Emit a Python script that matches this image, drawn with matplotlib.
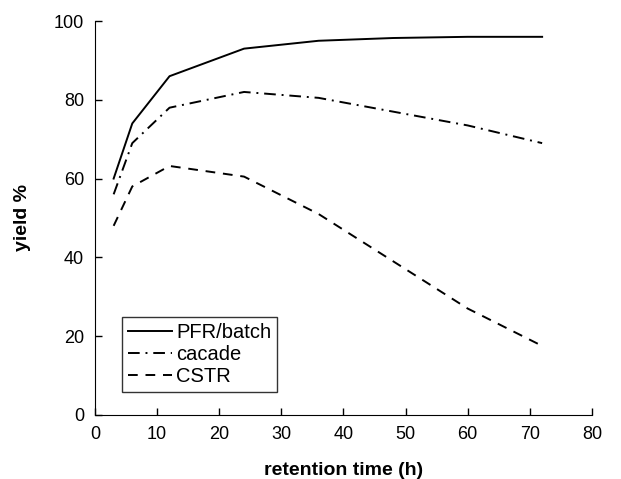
import matplotlib
matplotlib.use("Agg")
import matplotlib.pyplot as plt

plt.rcParams['font.family'] = ['Liberation Sans', 'DejaVu Sans']

# retention time (h)
t = [3, 6, 12, 24, 36, 48, 60, 72]
# yield % for each reactor type
pfr = [60, 74, 86, 93, 95, 95.7, 96, 96]
cascade = [56, 69, 78, 82, 80.5, 77, 73.5, 69]
cstr = [48, 58, 63.2, 60.5, 51, 39, 27, 17.5]

fig = plt.figure(figsize=(6.21, 4.79), dpi=100)
ax = fig.add_axes([0.153, 0.134, 0.8, 0.822])

ax.plot(t, pfr, color="black", lw=1.4, ls="-", label="PFR/batch")
ax.plot(t, cascade, color="black", lw=1.4, ls=(0, (6, 3, 1, 3)), label="cacade")
ax.plot(t, cstr, color="black", lw=1.4, ls=(0, (5, 4)), label="CSTR")

ax.set_xlim(0, 80)
ax.set_ylim(0, 100)
ax.set_xticks(range(0, 81, 10))
ax.set_yticks(range(0, 101, 20))
ax.spines['top'].set_visible(False)
ax.spines['right'].set_visible(False)
ax.tick_params(direction="in", length=5, width=1, labelsize=13, pad=8)
ax.set_xlabel("retention time (h)", fontsize=14, fontweight="bold", labelpad=14)
ax.set_ylabel("yield %", fontsize=14, fontweight="bold", labelpad=16)

leg = ax.legend(loc="lower left", bbox_to_anchor=(0.054, 0.058), borderaxespad=0,
                fontsize=14.5, handlelength=2.2, frameon=True, fancybox=False,
                borderpad=0.3, labelspacing=0.15, handletextpad=0.2)
leg.get_frame().set_edgecolor("black")
leg.get_frame().set_linewidth(1)

fig.savefig("out.png", dpi=100)
